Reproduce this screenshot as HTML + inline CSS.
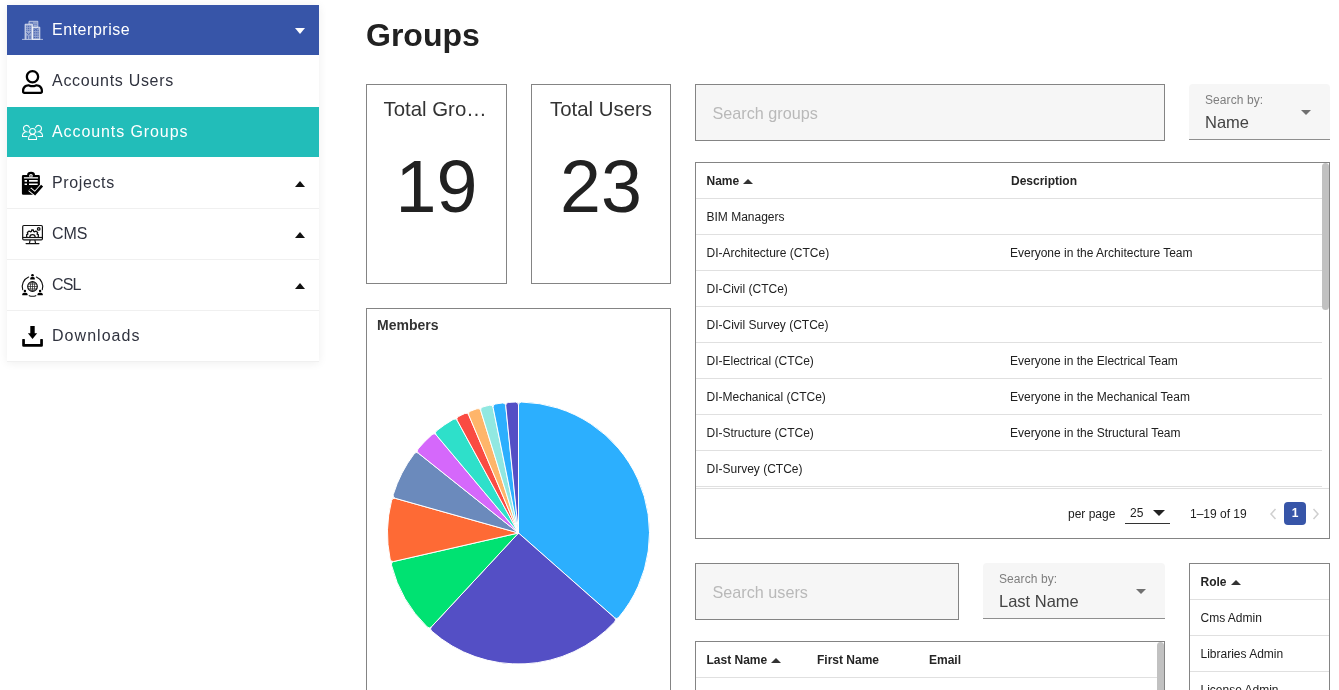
<!DOCTYPE html>
<html lang="en">
<head>
<meta charset="utf-8">
<title>Groups</title>
<style>
*{box-sizing:border-box;margin:0;padding:0}
html,body{width:1339px;height:690px;overflow:hidden;background:#fff}
body{position:relative;font-family:"Liberation Sans",Arial,sans-serif;color:#212121}
.abs{position:absolute}
/* sidebar */
#side{position:absolute;left:7px;top:5px;width:312px;height:357px;background:#fff;box-shadow:0 1px 9px rgba(0,0,0,.07)}
.mi{position:absolute;left:0;width:312px;height:51px;border-bottom:1px solid #f0f0f0;color:#30333f}
.mi .tx{position:absolute;left:45px;top:0;line-height:50px;font-size:16px;letter-spacing:.35px;white-space:nowrap}
.mi svg.ic{position:absolute;left:14px;top:13px;width:24px;height:24px}
.mi .car{position:absolute;left:288px;top:23px;width:0;height:0;border-left:5px solid transparent;border-right:5px solid transparent}
.car.up{border-bottom:6px solid #111}
.car.dn{border-top:6px solid #fff}
/* main */
h1{position:absolute;left:366px;top:15px;font-size:32px;line-height:40px;font-weight:bold;color:#212121}
.card{position:absolute;border:1px solid #848484;background:#fff}
.stat .t{position:absolute;left:0;right:0;top:12px;text-align:center;font-size:20.4px;line-height:24px;color:#333;white-space:nowrap}
.stat .n{position:absolute;left:0;right:0;top:62px;text-align:center;font-size:73.6px;line-height:80px;color:#212121}
.search{position:absolute;border:1px solid #848484;background:#f6f6f6;color:#b9b9b9;font-size:16.2px;line-height:57px;padding-left:16.5px}
.sel{position:absolute;background:#f6f6f6;border-bottom:1px solid #8f8f8f;border-radius:4px 4px 0 0}
.sel .l{position:absolute;left:16px;top:9px;font-size:12px;line-height:14px;color:#7e7e7e;letter-spacing:.08px}
.sel .v{position:absolute;left:16px;top:28px;font-size:16.5px;line-height:20px;color:#444}
.sel .a{position:absolute;right:19px;top:26px;width:0;height:0;border-left:5px solid transparent;border-right:5px solid transparent;border-top:5px solid #707070}
.row{position:absolute;left:0;height:36px;border-bottom:1px solid #e0e0e0;font-size:12px;line-height:37px;color:#212121;white-space:nowrap}
.row span{position:absolute;top:0}
.row.h{font-weight:bold;color:#252525}
.up2{display:inline-block;width:0;height:0;border-left:5px solid transparent;border-right:5px solid transparent;border-bottom:5px solid #333;margin-left:4px;vertical-align:1px}
</style>
</head>
<body>
<div id="side">
  <div class="mi" style="top:0;background:#3755a8;border-bottom-color:#fff;color:#fff"><span class="tx" style="letter-spacing:.53px">Enterprise</span><i class="car dn"></i></div>
  <div class="mi" style="top:51px;border-bottom-color:#fff"><span class="tx" style="letter-spacing:.71px">Accounts Users</span></div>
  <div class="mi" style="top:102px;background:#22bdb9;border-bottom-color:#fff;color:#fff"><span class="tx" style="letter-spacing:.91px">Accounts Groups</span></div>
  <div class="mi" style="top:153px"><span class="tx" style="letter-spacing:.62px">Projects</span><i class="car up"></i></div>
  <div class="mi" style="top:204px"><span class="tx" style="letter-spacing:-.08px">CMS</span><i class="car up"></i></div>
  <div class="mi" style="top:255px"><span class="tx" style="letter-spacing:-.85px">CSL</span><i class="car up"></i></div>
  <div class="mi" style="top:306px"><span class="tx" style="letter-spacing:1.04px">Downloads</span></div>
</div>

<svg class="abs" id="icons" style="left:0;top:0;z-index:5" width="340" height="370" viewBox="0 0 340 370">
<!-- enterprise building -->
<g fill="none" stroke="#fff" stroke-width="0.7">
  <path d="M22 39.400H43" opacity=".85"/>
  <path d="M25.100 39.400V24.200H32.400V39.400" fill="rgba(255,255,255,.5)"/>
  <path d="M29 24.200V21.300H37.800V27.200H32.400" fill="rgba(255,255,255,.22)" opacity=".9"/>
  <path d="M32.400 27.200H39.800V39.400H32.400Z" fill="rgba(255,255,255,.45)"/>
  <path d="M33 23H37M33.600 25.200H36.800" opacity=".8"/>
</g>
<g fill="none" stroke="#3755a8" stroke-width=".9" opacity=".95">
  <path d="M26.300 26.300h5M26.300 28.300h5M26.300 30.300h5" stroke-dasharray="1 .7"/>
  <path d="M26.400 32.300L28.700 34.600L31 32.300M27.300 39V35.600M30 39V35.600"/>
  <path d="M33.800 30.400h4.800M33.800 32.800h4.800M33.800 35.200h4.800M33.800 37.600h4.800" stroke-dasharray="1.200 .700"/>
  <path d="M34.200 28.600A2 2 0 0 0 37.500 28.400"/>
</g>
<!-- user -->
<g transform="translate(22 70) scale(0.046875)"><path fill="#000" d="M313.6 304c-28.700 0-42.500 16-89.600 16-47.100 0-60.800-16-89.600-16C60.200 304 0 364.200 0 438.400V464c0 26.500 21.500 48 48 48h352c26.500 0 48-21.500 48-48v-25.600c0-74.200-60.200-134.400-134.400-134.400zM400 464H48v-25.600c0-47.600 38.800-86.400 86.400-86.400 14.600 0 38.300 16 89.600 16 51.700 0 74.900-16 89.600-16 47.600 0 86.400 38.800 86.400 86.400V464zM224 288c79.500 0 144-64.500 144-144S303.500 0 224 0 80 64.500 80 144s64.500 144 144 144zm0-240c52.900 0 96 43.100 96 96s-43.100 96-96 96-96-43.100-96-96 43.100-96 96-96z"/></g>
<!-- groups -->
<g fill="none" stroke="#fff" stroke-width="1.050" stroke-linejoin="round" stroke-linecap="round">
  <circle cx="32.500" cy="131.350" r="2.900"/>
  <path d="M28.600 139.450V138.300A3.950 3.950 0 0 1 36.500 138.300V139.450Z"/>
  <path d="M26.300 131.400A3 3 0 1 1 29.400 127.600"/>
  <path d="M27 136.400H22.500V135.600A4 4 0 0 1 25 131.950"/>
  <path d="M25 131.950H28.600" opacity=".55"/>
  <path d="M38.700 131.400A3 3 0 1 0 35.600 127.600"/>
  <path d="M38 136.400H42.500V135.600A4 4 0 0 0 40 131.950"/>
  <path d="M40 131.950H36.400" opacity=".55"/>
</g>
<!-- projects clipboard -->
<g>
  <path fill="#000" d="M23.200 175.100H27.100A3.950 3.300 0 0 1 35 175.100H38.600A1.300 1.300 0 0 1 39.900 176.400V193.500A1.300 1.300 0 0 1 38.600 194.800H23.200A1.300 1.300 0 0 1 21.900 193.500V176.400A1.300 1.300 0 0 1 23.200 175.100Z"/>
  <path d="M23.900 177.850H38.100" stroke="#fff" stroke-width="1.300"/>
  <circle cx="30.950" cy="175.800" r="1.800" fill="#fff"/><circle cx="30.950" cy="176" r=".75" fill="#000"/>
  <path d="M24.600 180.850H27M29 180.850H37.700M24.600 184.200H27M29 184.200H37.700" stroke="#fff" stroke-width="1.600"/>
  <path d="M34.800 195.500L43 186.500V196Z" fill="#fff"/>
  <path d="M29.700 189.200L35 193.700L42.100 185.700" fill="none" stroke="#fff" stroke-width="4.500"/>
  <path d="M29.700 189.200L35 193.700L42.100 185.700" fill="none" stroke="#000" stroke-width="2.700"/>
</g>
<!-- cms monitor -->
<g fill="none" stroke="#111" stroke-width="1.200" stroke-linejoin="round">
  <rect x="22.700" y="225.500" width="19.700" height="14.400" rx="1.200"/>
  <path d="M22.700 237.500H42.400"/>
  <path d="M30.100 240L29.400 243.500M34.900 240L35.600 243.500"/>
  <path d="M26.100 243.600H38.900" stroke-linecap="round"/>
  <circle cx="38.700" cy="228.900" r="1.250" stroke-width="1.300"/>
  <path d="M26.700 237.300V234.600L27.900 234.100L27.400 232.600L29.100 231.100L30.400 231.800L31.400 231.300L31.700 230H33.300L33.600 231.300L34.600 231.800L35.900 231.100L37.600 232.600L37.100 234.100L38.300 234.600V237.300" stroke-width="1.300"/>
  <path d="M29.800 237.300A2.700 2.700 0 0 1 35.200 237.300" stroke-width="1.300"/>
</g>
<!-- csl -->
<g fill="none" stroke="#111" stroke-width="1.150">
  <circle cx="32.500" cy="286.500" r="4.800" stroke-width="1.200"/>
  <ellipse cx="32.500" cy="286.500" rx="2.100" ry="4.800" stroke-width=".7"/>
  <path d="M32.500 281.700V291.300M27.700 286.500H37.300M28.600 284.100H36.400M28.600 288.900H36.400" stroke-width=".65"/>
  <path d="M28.600 277A10.300 10.300 0 0 0 22.700 289.600" stroke-linecap="round"/>
  <path d="M36.400 277A10.300 10.300 0 0 1 42.300 289.600" stroke-linecap="round"/>
  <path d="M29.200 295.700A10.300 10.300 0 0 0 35.800 295.700" stroke-linecap="round"/>
</g>
<g fill="#000">
  <circle cx="32.500" cy="275.200" r="1.300"/><path d="M30.200 279.600V278.600A1.500 1.500 0 0 1 31.700 277.100H33.300A1.500 1.500 0 0 1 34.800 278.600V279.600Z"/>
  <circle cx="24.900" cy="291" r="1.200"/><path d="M22.300 295.200V294.300A1.500 1.500 0 0 1 23.800 292.800H26A1.500 1.500 0 0 1 27.500 294.300V295.200Z"/>
  <circle cx="40.100" cy="291" r="1.200"/><path d="M37.500 295.200V294.300A1.500 1.500 0 0 1 39 292.800H41.200A1.500 1.500 0 0 1 42.700 294.300V295.200Z"/>
</g>
<!-- downloads -->
<g fill="#000">
  <path d="M30.300 325.900H34.700V333.300H37.200L32.500 339L27.900 333.300H30.300Z"/>
  <path d="M22.200 339.600A.6 .6 0 0 1 22.800 339H24.300A.6 .6 0 0 1 24.900 339.600V344.100H40.200V339.600A.6 .6 0 0 1 40.800 339H42.300A.6 .6 0 0 1 42.900 339.600V345.500A1.300 1.300 0 0 1 41.600 346.800H23.500A1.300 1.300 0 0 1 22.200 345.500Z"/>
</g>
</svg>

<h1>Groups</h1>

<div class="card stat" style="left:366px;top:84px;width:141px;height:200px"><div class="t" style="text-align:left;left:16.5px">Total Gro…</div><div class="n">19</div></div>
<div class="card stat" style="left:531px;top:84px;width:140px;height:200px"><div class="t">Total Users</div><div class="n">23</div></div>

<div class="card" id="members" style="left:366px;top:308px;width:305px;height:400px">
  <div class="abs" style="left:10px;top:8px;font-size:14px;line-height:17px;font-weight:bold;color:#333">Members</div>
</div>

<svg class="abs" style="left:0;top:0" width="1339" height="690" viewBox="0 0 1339 690"><g stroke="#fff" stroke-width="1" stroke-linejoin="round">
<path d="M518.5 533.0L518.50 405.04A3.0 3.0 0 0 1 521.57 402.04A131.0 131.0 0 0 1 618.73 617.35A3.0 3.0 0 0 1 614.45 617.67Z" fill="#2caffe"/>
<path d="M518.5 533.0L614.45 617.67A3.0 3.0 0 0 1 614.66 621.96A131.0 131.0 0 0 1 431.67 631.09A3.0 3.0 0 0 1 431.46 626.80Z" fill="#544fc5"/>
<path d="M518.5 533.0L431.46 626.80A3.0 3.0 0 0 1 427.17 626.92A131.0 131.0 0 0 1 391.50 565.14A3.0 3.0 0 0 1 393.74 561.47Z" fill="#00e272"/>
<path d="M518.5 533.0L393.74 561.47A3.0 3.0 0 0 1 390.14 559.15A131.0 131.0 0 0 1 391.60 500.49A3.0 3.0 0 0 1 395.32 498.34Z" fill="#fe6a35"/>
<path d="M518.5 533.0L395.32 498.34A3.0 3.0 0 0 1 393.26 494.57A131.0 131.0 0 0 1 414.19 453.75A3.0 3.0 0 0 1 418.45 453.22Z" fill="#6b8abc"/>
<path d="M518.5 533.0L418.45 453.22A3.0 3.0 0 0 1 418.02 448.94A131.0 131.0 0 0 1 431.97 434.65A3.0 3.0 0 0 1 436.25 434.97Z" fill="#d568fb"/>
<path d="M518.5 533.0L436.25 434.97A3.0 3.0 0 0 1 436.67 430.70A131.0 131.0 0 0 1 453.17 419.45A3.0 3.0 0 0 1 457.30 420.62Z" fill="#2ee0ca"/>
<path d="M518.5 533.0L457.30 420.62A3.0 3.0 0 0 1 458.56 416.52A131.0 131.0 0 0 1 464.80 413.51A3.0 3.0 0 0 1 468.79 415.08Z" fill="#fa4b42"/>
<path d="M518.5 533.0L468.79 415.08A3.0 3.0 0 0 1 470.46 411.13A131.0 131.0 0 0 1 476.96 408.76A3.0 3.0 0 0 1 480.78 410.72Z" fill="#feb56a"/>
<path d="M518.5 533.0L480.78 410.72A3.0 3.0 0 0 1 482.83 406.95A131.0 131.0 0 0 1 489.54 405.24A3.0 3.0 0 0 1 493.14 407.57Z" fill="#91e8e1"/>
<path d="M518.5 533.0L493.14 407.57A3.0 3.0 0 0 1 495.56 404.02A131.0 131.0 0 0 1 502.41 402.99A3.0 3.0 0 0 1 505.76 405.67Z" fill="#2caffe"/>
<path d="M518.5 533.0L505.76 405.67A3.0 3.0 0 0 1 508.52 402.38A131.0 131.0 0 0 1 515.43 402.04A3.0 3.0 0 0 1 518.50 405.04Z" fill="#544fc5"/>
</g></svg>
<div class="search" style="left:695px;top:84px;width:470px;height:57px">Search groups</div>
<div class="sel" style="left:1189px;top:84px;width:141px;height:56px"><div class="l">Search by:</div><div class="v">Name</div><i class="a"></i></div>

<div class="card" id="gt" style="left:695px;top:162px;width:635px;height:377px;overflow:hidden">
  <div class="row h" style="top:0;width:626px"><span style="left:10.5px">Name<i class="up2"></i></span><span style="left:315px">Description</span></div>
  <div class="row" style="top:36px;width:626px"><span style="left:10.5px">BIM Managers</span><span style="left:314px"></span></div>
  <div class="row" style="top:72px;width:626px"><span style="left:10.5px">DI-Architecture (CTCe)</span><span style="left:314px">Everyone in the Architecture Team</span></div>
  <div class="row" style="top:108px;width:626px"><span style="left:10.5px">DI-Civil (CTCe)</span><span style="left:314px"></span></div>
  <div class="row" style="top:144px;width:626px"><span style="left:10.5px">DI-Civil Survey (CTCe)</span><span style="left:314px"></span></div>
  <div class="row" style="top:180px;width:626px"><span style="left:10.5px">DI-Electrical (CTCe)</span><span style="left:314px">Everyone in the Electrical Team</span></div>
  <div class="row" style="top:216px;width:626px"><span style="left:10.5px">DI-Mechanical (CTCe)</span><span style="left:314px">Everyone in the Mechanical Team</span></div>
  <div class="row" style="top:252px;width:626px"><span style="left:10.5px">DI-Structure (CTCe)</span><span style="left:314px">Everyone in the Structural Team</span></div>
  <div class="row" style="top:288px;width:626px"><span style="left:10.5px">DI-Survey (CTCe)</span><span style="left:314px"></span></div>
  <div class="abs" style="left:626px;top:0;width:7px;height:147px;background:#c1c1c1;border-radius:4px"></div>
  <div class="abs" id="foot" style="left:0;top:325px;width:633px;height:50px;border-top:1px solid #e0e0e0;background:#fff;font-size:12px;line-height:14px;color:#212121">
    <span class="abs" style="left:372px;top:18px">per page</span>
    <span class="abs" style="left:429px;top:11px;width:45px;height:24px;border-bottom:1px solid #333"><span class="abs" style="left:5px;top:6px">25</span><i class="abs" style="left:28px;top:10px;width:0;height:0;border-left:6px solid transparent;border-right:6px solid transparent;border-top:6px solid #222"></i></span>
    <span class="abs" style="left:494px;top:18px">1–19 of 19</span>
    <svg class="abs" style="left:572px;top:17px" width="10" height="16" viewBox="0 0 10 16"><path d="M7.500 3L3 8L7.500 13" fill="none" stroke="#cfcfcf" stroke-width="1.500"/></svg>
    <span class="abs" style="left:588px;top:13px;width:22px;height:23px;background:#3755a8;border-radius:4px;color:#fff;font-weight:bold;text-align:center;line-height:23px">1</span>
    <svg class="abs" style="left:615px;top:17px" width="10" height="16" viewBox="0 0 10 16"><path d="M2.500 3L7 8L2.500 13" fill="none" stroke="#cfcfcf" stroke-width="1.500"/></svg>
  </div>
</div>

<div class="search" style="left:695px;top:563px;width:264px;height:57px">Search users</div>
<div class="sel" style="left:983px;top:563px;width:182px;height:56px"><div class="l">Search by:</div><div class="v">Last Name</div><i class="a"></i></div>

<div class="card" id="ut" style="left:695px;top:641px;width:470px;height:80px;overflow:hidden">
  <div class="row h" style="top:0;width:461px"><span style="left:10.5px">Last Name<i class="up2"></i></span><span style="left:121px">First Name</span><span style="left:233px">Email</span></div>
  <div class="abs" style="left:461px;top:0;width:7px;height:80px;background:#c1c1c1;border-radius:4px 4px 0 0"></div>
</div>
<div class="card" id="rt" style="left:1189px;top:563px;width:141px;height:160px;overflow:hidden">
  <div class="row h" style="top:0;width:139px"><span style="left:10.5px">Role<i class="up2"></i></span></div>
  <div class="row" style="top:36px;width:139px"><span style="left:10.5px">Cms Admin</span></div>
  <div class="row" style="top:72px;width:139px"><span style="left:10.5px">Libraries Admin</span></div>
  <div class="row" style="top:108px;width:139px"><span style="left:10.5px">License Admin</span></div>
</div>
</body>
</html>
